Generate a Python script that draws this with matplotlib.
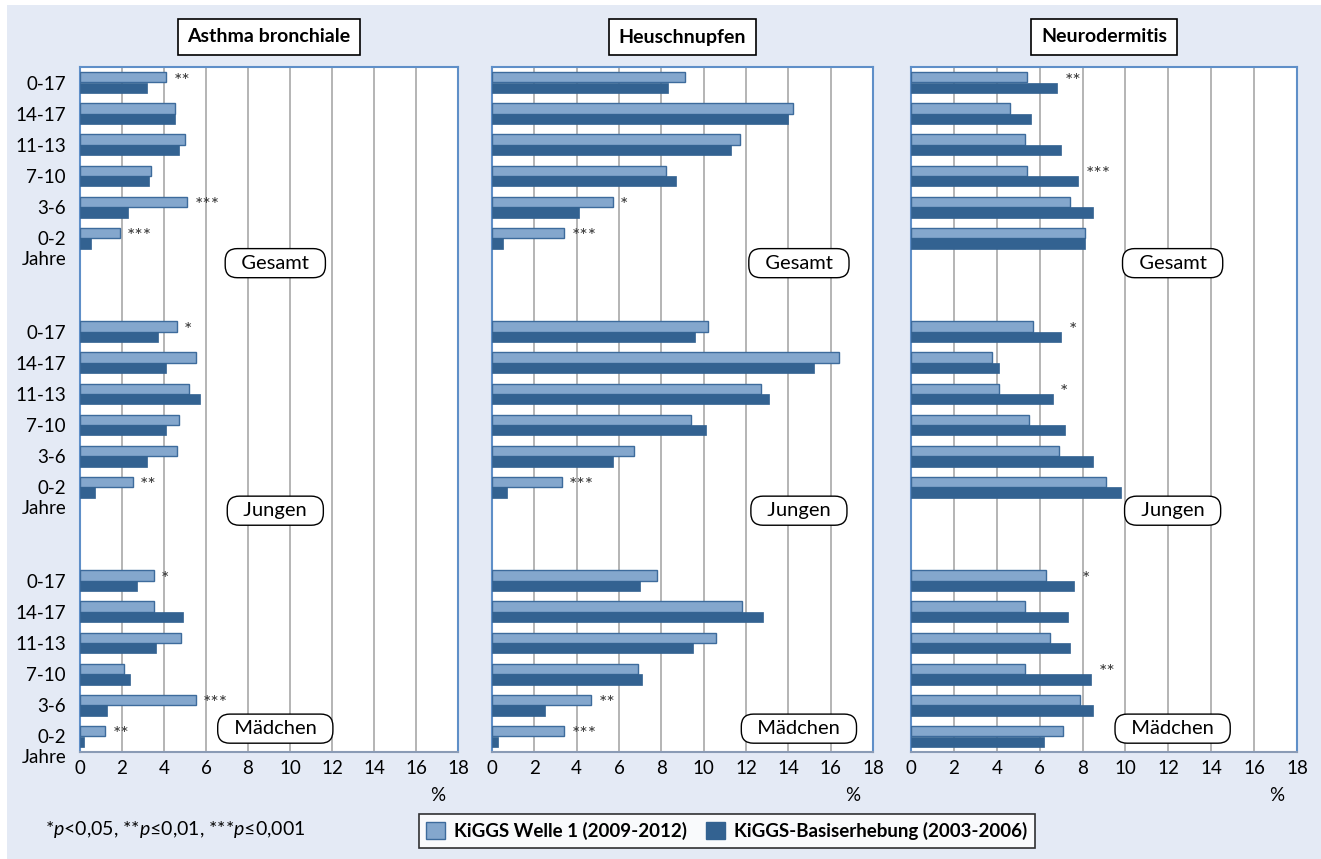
import matplotlib
matplotlib.use('Agg')
import matplotlib.pyplot as plt
from matplotlib.patches import Patch, Rectangle

plt.rcParams['font.family'] = ['Lato', 'DejaVu Sans']
plt.rcParams['mathtext.fontset'] = 'custom'
plt.rcParams['mathtext.rm'] = 'Lato'
plt.rcParams['mathtext.it'] = 'Lato:italic'

# Daten (Prozent), Reihenfolge der Altersgruppen von oben nach unten
altersgruppen = ['0-17', '14-17', '11-13', '7-10', '3-6', '0-2']
gruppen = ['Gesamt', 'Jungen', 'Mädchen']
krankheiten = ['Asthma bronchiale', 'Heuschnupfen', 'Neurodermitis']

# KiGGS Welle 1 (hell) und Basiserhebung (dunkel)
asthma_welle1 = [[4.1, 4.5, 5.0, 3.4, 5.1, 1.9],
                 [4.6, 5.5, 5.2, 4.7, 4.6, 2.5],
                 [3.5, 3.5, 4.8, 2.1, 5.5, 1.2]]
asthma_basis = [[3.2, 4.5, 4.7, 3.3, 2.3, 0.5],
                [3.7, 4.1, 5.7, 4.1, 3.2, 0.7],
                [2.7, 4.9, 3.6, 2.4, 1.3, 0.2]]
heu_welle1 = [[9.1, 14.2, 11.7, 8.2, 5.7, 3.4],
              [10.2, 16.4, 12.7, 9.4, 6.7, 3.3],
              [7.8, 11.8, 10.6, 6.9, 4.7, 3.4]]
heu_basis = [[8.3, 14.0, 11.3, 8.7, 4.1, 0.5],
             [9.6, 15.2, 13.1, 10.1, 5.7, 0.7],
             [7.0, 12.8, 9.5, 7.1, 2.5, 0.3]]
neuro_welle1 = [[5.4, 4.6, 5.3, 5.4, 7.4, 8.1],
                [5.7, 3.8, 4.1, 5.5, 6.9, 9.1],
                [6.3, 5.3, 6.5, 5.3, 7.9, 7.1]]
neuro_basis = [[6.8, 5.6, 7.0, 7.8, 8.5, 8.1],
               [7.0, 4.1, 6.6, 7.2, 8.5, 9.8],
               [7.6, 7.3, 7.4, 8.4, 8.5, 6.2]]

# Signifikanz
asthma_sig = [['**', '', '', '', '***', '***'],
              ['*', '', '', '', '', '**'],
              ['*', '', '', '', '***', '**']]
heu_sig = [['', '', '', '', '*', '***'],
           ['', '', '', '', '', '***'],
           ['', '', '', '', '**', '***']]
neuro_sig = [['**', '', '', '***', '', ''],
             ['*', '', '*', '', '', ''],
             ['*', '', '', '**', '', '']]

welle1_all = [asthma_welle1, heu_welle1, neuro_welle1]
basis_all = [asthma_basis, heu_basis, neuro_basis]
sig_all = [asthma_sig, heu_sig, neuro_sig]

# Position der Gruppen-Labels (x in %, y in Zeilen)
label_x = [9.3, 14.5, 12.2]
label_y = [5.8, 13.75, 20.75]

hell = '#84a7cd'
hell_rand = '#3d6b9c'
dunkel = '#336291'
hintergrund = '#e4eaf5'

W, H = 1321, 859
fig = plt.figure(figsize=(W / 100, H / 100), dpi=100, facecolor='white')
fig.patches.append(Rectangle((7 / W, 0), 1, 1 - 5 / H, transform=fig.transFigure,
                             facecolor=hintergrund, edgecolor='none', zorder=-10))

panels = [(80, 378), (492, 381), (911, 386)]
ax_bottom = 1 - 752 / H
ax_height = 685 / H

for k, (x0, w) in enumerate(panels):
    ax = fig.add_axes([x0 / W, ax_bottom, w / W, ax_height])
    ax.set_facecolor('white')
    for g in range(3):
        for r in range(6):
            y = g * 8 + r
            v1 = welle1_all[k][g][r]
            v2 = basis_all[k][g][r]
            ax.barh(y - 0.17, v1, height=0.33, color=hell, edgecolor=hell_rand,
                    linewidth=1.0, zorder=3)
            ax.barh(y + 0.17, v2, height=0.33, color=dunkel, edgecolor=dunkel,
                    linewidth=0.5, zorder=3)
            s = sig_all[k][g][r]
            if s:
                ax.text(max(v1, v2) + 0.35, y - 0.05, s, fontsize=14,
                        ha='left', va='center', color='#333333', zorder=4)
        ax.text(label_x[k], label_y[g], '  ' + gruppen[g] + '  ', fontsize=14.5,
                ha='center', va='center', zorder=5,
                bbox=dict(boxstyle='round,pad=0.3,rounding_size=0.6',
                          facecolor='white', edgecolor='black', linewidth=1.0))

    ax.set_xlim(0, 18)
    ax.set_ylim(21.5, -0.5)
    ax.set_xticks(range(0, 19, 2))
    ax.tick_params(axis='x', length=0, labelsize=13.5, pad=6)
    ax.grid(True, axis='x', color='#a8a8a8', linewidth=1.2, zorder=0)
    ax.set_axisbelow(True)
    for side in ['top', 'left', 'right']:
        ax.spines[side].set_color('#5f8fc8')
        ax.spines[side].set_linewidth(1.5)
    ax.spines['bottom'].set_color('#8a9bb5')
    ax.spines['bottom'].set_linewidth(1.5)

    if k == 0:
        ticks = [g * 8 + r for g in range(3) for r in range(6)]
        ax.set_yticks(ticks)
        ax.set_yticklabels(altersgruppen * 3)
        ax.tick_params(axis='y', length=0, labelsize=13.5, pad=10)
        for g in range(3):
            ax.annotate('Jahre', xy=(0, g * 8 + 5.68), xycoords=('axes fraction', 'data'),
                        xytext=(-10, 0), textcoords='offset points',
                        ha='right', va='center', fontsize=13.5, annotation_clip=False)
    else:
        ax.set_yticks([])

    ax.text(17.05, -0.063, '%', transform=ax.get_xaxis_transform(), fontsize=13.5,
            ha='center', va='center')

    fig.text((x0 + w / 2) / W, 1 - 37 / H, krankheiten[k], fontsize=14,
             fontweight='bold', ha='center', va='center',
             bbox=dict(boxstyle='square,pad=0.5', facecolor='white',
                       edgecolor='black', linewidth=1.2))

# Fußnote
fig.text(45 / W, 1 - 830 / H, r'*$p$<0,05, **$p$≤0,01, ***$p$≤0,001',
         fontsize=14, ha='left', va='center')

# Legende
handles = [Patch(facecolor=hell, edgecolor=hell_rand, label='KiGGS Welle 1 (2009-2012)'),
           Patch(facecolor=dunkel, edgecolor=dunkel, label='KiGGS-Basiserhebung (2003-2006)')]
leg = fig.legend(handles=handles, loc='center', bbox_to_anchor=(727 / W, 1 - 831 / H),
                 ncol=2, frameon=True, fancybox=False, edgecolor='black',
                 prop={'weight': 'bold', 'size': 13.5}, handlelength=1.0,
                 handleheight=1.0, columnspacing=1.0, handletextpad=0.5,
                 borderpad=0.4)
leg.get_frame().set_linewidth(1.2)

fig.savefig('out.png', dpi=100, facecolor=fig.get_facecolor())
